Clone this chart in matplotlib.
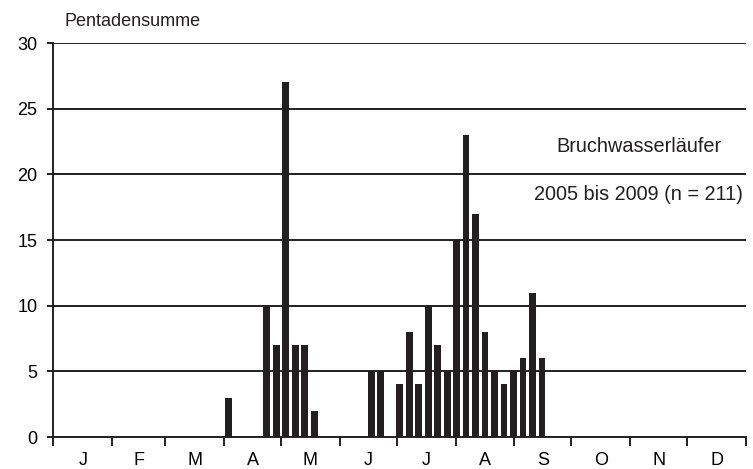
import numpy as np
import matplotlib
matplotlib.use("Agg")
import matplotlib.pyplot as plt

plt.rcParams["font.family"] = ["Liberation Sans", "DejaVu Sans"]

# Pentad index (0 = 1.-5. Jan) and sum of birds per pentad
pentads = [18, 22, 23, 24, 25, 26, 27,
           33, 34, 36, 37, 38, 39, 40, 41, 42, 43, 44, 45, 46, 47, 48, 49, 50, 51]
counts = [3, 10, 7, 27, 7, 7, 2,
          5, 5, 4, 8, 4, 10, 7, 5, 15, 23, 17, 8, 5, 4, 5, 6, 11, 6]

months = ["J", "F", "M", "A", "M", "J", "J", "A", "S", "O", "N", "D"]
month_days = [31, 28, 31, 30, 31, 30, 31, 31, 30, 31, 30, 31]

ink = "#231f20"

fig = plt.figure(figsize=(7.53, 4.69), dpi=100)
ax = fig.add_axes([0.0708, 0.0682, 0.9199, 0.8401])

# x axis in days of year, bars centered in their 5-day slot
x_days = np.array(pentads) * 5 + 2.5
ax.bar(x_days, counts, width=3.6, color=ink, zorder=3)

bounds = np.concatenate([[0], np.cumsum(month_days)])
ax.set_xlim(0, 365)
ax.set_ylim(0, 30)
ax.set_xticks(bounds)
ax.set_xticklabels([])
ax.set_xticks((bounds[:-1] + bounds[1:]) / 2, minor=True)
ax.set_xticklabels(months, minor=True)
ax.tick_params(axis="x", which="major", length=6.5, width=1.4, color=ink, direction="out")
ax.tick_params(axis="x", which="minor", length=0, pad=11, labelsize=13)

ax.set_yticks(range(0, 31, 5))
ax.tick_params(axis="y", length=4.5, width=1.4, color=ink, pad=7, labelsize=13)

for y in range(5, 31, 5):
    ax.axhline(y, color=ink, linewidth=1.4, zorder=1)

for side in ["top", "right"]:
    ax.spines[side].set_visible(False)
for side in ["left", "bottom"]:
    ax.spines[side].set_linewidth(1.4)
    ax.spines[side].set_color(ink)

ax.text(308.5, 22.1, "Bruchwasserläufer", ha="center", va="center", fontsize=14.3, color=ink)
ax.text(308.5, 18.5, "2005 bis 2009 (n = 211)", ha="center", va="center", fontsize=14.3, color=ink)

fig.text(65 / 753, 1 - 22 / 469, "Pentadensumme", ha="left", va="center", fontsize=13, color=ink)

fig.savefig("out.png", dpi=100)
